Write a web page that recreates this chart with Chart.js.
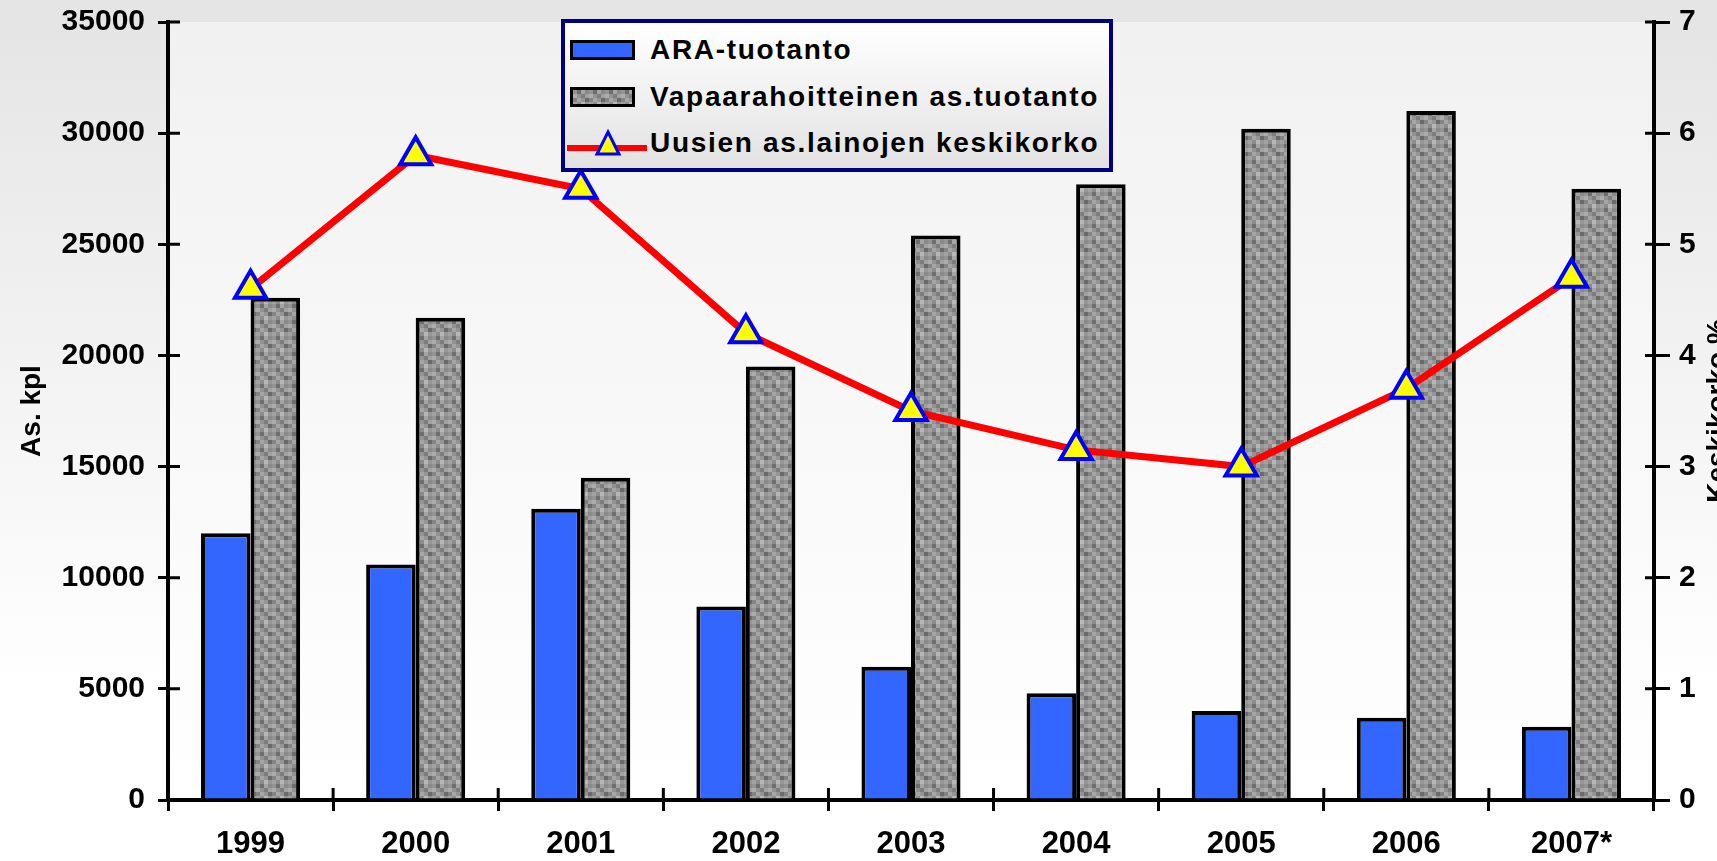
<!DOCTYPE html>
<html>
<head>
<meta charset="utf-8">
<script src="https://cdn.jsdelivr.net/npm/chart.js@4.4.1/dist/chart.umd.min.js"></script>
<style>
  html, body { margin: 0; padding: 0; overflow: hidden; }
  body { width: 1717px; height: 861px; position: relative; background: linear-gradient(#e4e4e4, #ffffff 80%); font-family: "Liberation Sans", Arial, sans-serif; }
  #wrap { position: absolute; left: 0; top: 0; width: 1717px; height: 861px; }
  #legend { position: absolute; left: 561px; top: 19px; width: 544px; height: 145px; border: 4px solid #000080; background: linear-gradient(#ffffff, #e2e2e2); }
  .item { position: absolute; left: 0; width: 544px; height: 40px; }
  .sw { position: absolute; top: 10px; left: 5px; width: 59px; height: 14px; border: 3px solid #000; }
  .lbl { position: absolute; left: 85px; top: 0; line-height: 40px; font-size: 28px; font-weight: bold; letter-spacing: 1.7px; color: #000; white-space: nowrap; }
</style>
</head>
<body>
<div id="wrap"><canvas id="chart" width="1717" height="861"></canvas></div>
<div id="legend"></div>
<script>
const years = ["1999", "2000", "2001", "2002", "2003", "2004", "2005", "2006", "2007*"];
const araValues = [12000, 10600, 13100, 8700, 6000, 4800, 4000, 3700, 3300];
const vapaaValues = [22600, 21700, 14500, 19500, 25400, 27700, 30200, 31000, 27500];
const korkoValues = [4.6, 5.8, 5.5, 4.2, 3.5, 3.15, 3.0, 3.7, 4.7];
const seriesNames = ["ARA-tuotanto", "Vapaarahoitteinen as.tuotanto", "Uusien as.lainojen keskikorko"];
const leftMax = 35000, leftStep = 5000;
const rightMax = 7, rightStep = 1;

const fontFamily = '"Liberation Sans", Arial, sans-serif';
Chart.defaults.font.family = fontFamily;
Chart.defaults.color = "#000";

// gray mottled fill for the second series
let tile = document.createElement("canvas");
tile.width = 16; tile.height = 16;
let tctx = tile.getContext("2d");
let shades = [
  ["#949494", "#6e6e6e", "#a4a4a4", "#8a8a8a"],
  ["#acacac", "#929292", "#7e7e7e", "#a0a0a0"],
  ["#848484", "#a6a6a6", "#949494", "#6a6a6a"],
  ["#a2a2a2", "#8c8c8c", "#b8b8b8", "#969696"]
];
for (let r = 0; r < 4; r++) {
  for (let c = 0; c < 4; c++) {
    tctx.fillStyle = shades[r][c];
    tctx.fillRect(c * 4, r * 4, 4, 4);
  }
}
let grayPattern = tctx.createPattern(tile, "repeat");

const plotBg = {
  id: "plotBg",
  beforeDraw(chart) {
    const {ctx, chartArea: a} = chart;
    let g = ctx.createLinearGradient(0, a.top, 0, a.bottom);
    g.addColorStop(0, "#f1f1f1");
    g.addColorStop(1, "#ffffff");
    ctx.save();
    ctx.fillStyle = g;
    ctx.fillRect(a.left, a.top, a.right - a.left, a.bottom - a.top);
    ctx.restore();
  }
};

const innerTicks = {
  id: "innerTicks",
  afterDraw(chart) {
    const {ctx, chartArea: a, scales} = chart;
    ctx.save();
    ctx.strokeStyle = "#000";
    ctx.lineWidth = 3;
    ctx.beginPath();
    scales.y.ticks.forEach((t, i) => {
      let py = scales.y.getPixelForTick(i);
      ctx.moveTo(a.left, py); ctx.lineTo(a.left + 12, py);
    });
    scales.y1.ticks.forEach((t, i) => {
      let py = scales.y1.getPixelForTick(i);
      ctx.moveTo(a.right, py); ctx.lineTo(a.right - 9, py);
    });
    for (let i = 1; i < years.length; i++) {
      let px = scales.x.getPixelForValue(i - 0.5);
      ctx.moveTo(px, a.bottom); ctx.lineTo(px, a.bottom - 12);
    }
    ctx.stroke();
    // right axis title, rotated like the left one
    ctx.translate(1718, (a.top + a.bottom) / 2);
    ctx.rotate(-Math.PI / 2);
    ctx.font = "bold 28px " + fontFamily;
    ctx.fillStyle = "#000";
    ctx.textAlign = "center";
    ctx.textBaseline = "middle";
    ctx.fillText("Keskikorko %", 0, 0);
    ctx.restore();
  }
};

let chart = new Chart(document.getElementById("chart"), {
  type: "bar",
  data: {
    labels: years,
    datasets: [
      {
        type: "line",
        label: seriesNames[2],
        data: korkoValues,
        yAxisID: "y1",
        borderColor: "#ff0000",
        borderWidth: 7,
        pointStyle: "triangle",
        pointRadius: 18,
        pointBorderWidth: 4,
        pointBackgroundColor: "#ffff00",
        pointBorderColor: "#0000ff",
        tension: 0,
        order: 0
      },
      {
        label: seriesNames[0],
        data: araValues,
        yAxisID: "y",
        backgroundColor: "#3366ff",
        borderColor: "#000",
        borderWidth: 4,
        categoryPercentage: 0.6,
        barPercentage: 1.0,
        order: 1
      },
      {
        label: seriesNames[1],
        data: vapaaValues,
        yAxisID: "y",
        backgroundColor: grayPattern,
        borderColor: "#000",
        borderWidth: 4,
        categoryPercentage: 0.6,
        barPercentage: 1.0,
        order: 2
      }
    ]
  },
  options: {
    responsive: false,
    animation: false,
    layout: { padding: { top: 21, left: 0, right: 0, bottom: 0 } },
    plugins: {
      legend: { display: false },
      tooltip: { enabled: false }
    },
    scales: {
      x: {
        grid: { offset: true, drawOnChartArea: false, tickLength: 11, color: "#000", lineWidth: 3 },
        border: { color: "#000", width: 4 },
        ticks: { color: "#000", font: { size: 31, weight: "bold" }, padding: 15, maxRotation: 0 },
        afterFit(s) { s.height = 61; }
      },
      y: {
        position: "left",
        min: 0,
        max: leftMax,
        ticks: { stepSize: leftStep, color: "#000", font: { size: 30, weight: "bold" }, padding: 13, callback: v => String(v) },
        grid: { drawOnChartArea: false, tickLength: 10, color: "#000", lineWidth: 3 },
        border: { color: "#000", width: 4 },
        title: { display: true, text: "As. kpl", color: "#000", font: { size: 28, weight: "bold" }, padding: { top: 15, bottom: 0 } },
        afterFit(s) { s.width = 168; s.paddingTop = 0; s.paddingBottom = 0; }
      },
      y1: {
        position: "right",
        min: 0,
        max: rightMax,
        ticks: { stepSize: rightStep, color: "#000", font: { size: 30, weight: "bold" }, padding: 9, callback: v => String(v) },
        grid: { drawOnChartArea: false, tickLength: 16, color: "#000", lineWidth: 3 },
        border: { color: "#000", width: 4 },
        afterFit(s) { s.width = 63; s.paddingTop = 0; s.paddingBottom = 0; }
      }
    }
  },
  plugins: [plotBg, innerTicks]
});

// legend box
let legend = document.getElementById("legend");
let rowTops = [7, 54, 100];
[chart.data.datasets[1], chart.data.datasets[2], chart.data.datasets[0]].forEach((ds, i) => {
  let item = document.createElement("div");
  item.className = "item";
  item.style.top = rowTops[i] + "px";
  if (ds.type === "line") {
    item.innerHTML = '<svg style="position:absolute;left:2px;top:4px" width="80" height="32">' +
      '<line x1="0" y1="21" x2="80" y2="21" stroke="' + ds.borderColor + '" stroke-width="6"/>' +
      '<polygon points="41,5 52,27 30,27" fill="' + ds.pointBackgroundColor + '" stroke="' + ds.pointBorderColor + '" stroke-width="3"/></svg>';
  } else {
    let sw = document.createElement("div");
    sw.className = "sw";
    if (typeof ds.backgroundColor === "string") sw.style.background = ds.backgroundColor;
    else sw.style.background = "url(" + tile.toDataURL() + ")";
    item.appendChild(sw);
  }
  let lbl = document.createElement("div");
  lbl.className = "lbl";
  lbl.textContent = ds.label;
  item.appendChild(lbl);
  legend.appendChild(item);
});
</script>
</body>
</html>
